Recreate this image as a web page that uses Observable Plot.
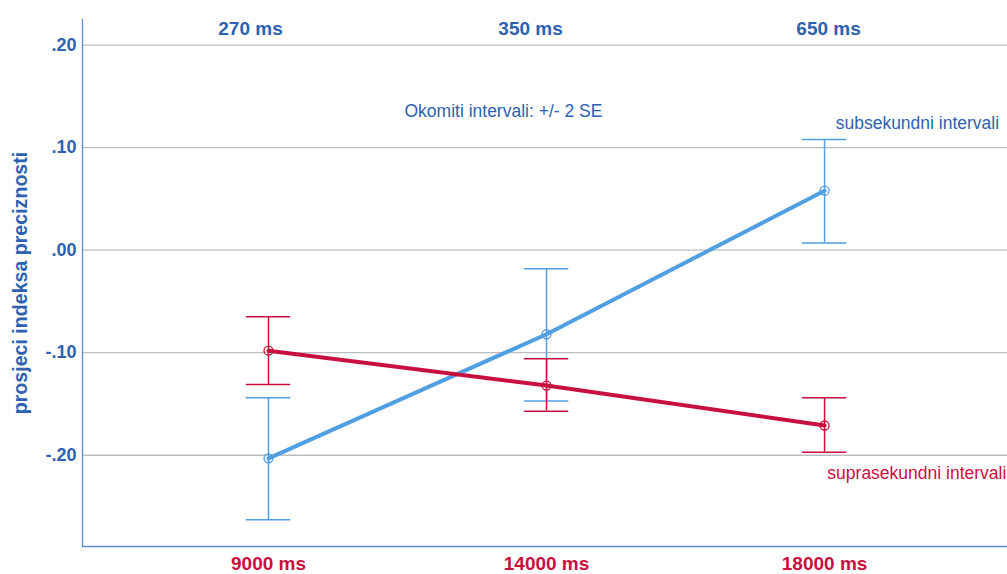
<!DOCTYPE html>
<html>
<head>
<meta charset="utf-8">
<script src="https://cdn.jsdelivr.net/npm/d3@7"></script>
<script src="https://cdn.jsdelivr.net/npm/@observablehq/plot@0.6"></script>
<style>
  html, body { margin: 0; padding: 0; background: #fff; }
  #chart svg { display: block; }
</style>
</head>
<body>
<div id="chart"></div>
<script>
// Category labels
const bottomLabels = ["9000 ms", "14000 ms", "18000 ms"];
const topLabels = ["270 ms", "350 ms", "650 ms"];
const yTicks = [-0.2, -0.1, 0, 0.1, 0.2];

// Subsekundni intervali (blue): means and +/- 2 SE bounds
const subMean = [-0.203, -0.082, 0.058];
const subLow  = [-0.263, -0.147, 0.007];
const subHigh = [-0.144, -0.018, 0.108];

// Suprasekundni intervali (red)
const supMean = [-0.098, -0.132, -0.171];
const supLow  = [-0.131, -0.157, -0.197];
const supHigh = [-0.065, -0.106, -0.144];

const BLUE = "#519fe3";
const RED = "#c8103e";
const TEXT_BLUE = "#2e62b0";

const mk = (mean, low, high) => mean.map((m, i) => ({i, m, lo: low[i], hi: high[i]}));
const sub = mk(subMean, subLow, subHigh);
const sup = mk(supMean, supLow, supHigh);
const cap = 0.08;
const fmt = v => {
  const s = Math.abs(v).toFixed(2).replace(/^0\./, ".");
  return (v < 0 ? "-" : "") + s;
};

function errorBars(data, color) {
  return [
    Plot.ruleX(data, {x: "i", y1: "lo", y2: "hi", stroke: color, strokeWidth: 1.5}),
    Plot.ruleY(data, {y: "lo", x1: d => d.i - cap, x2: d => d.i + cap, stroke: color, strokeWidth: 1.5}),
    Plot.ruleY(data, {y: "hi", x1: d => d.i - cap, x2: d => d.i + cap, stroke: color, strokeWidth: 1.5})
  ];
}

// small horizontal nudges of the top labels, as in the original
const topDx = [-18, -16, 4];

const chart = Plot.plot({
  width: 1007,
  height: 574,
  marginLeft: 82,
  marginRight: 0,
  marginTop: 19,
  marginBottom: 28,
  style: {fontFamily: "'Liberation Sans', Arial, sans-serif", background: "white"},
  x: {type: "linear", domain: [-0.669, 2.658]},
  y: {domain: [-0.289, 0.225]},
  marks: [
    Plot.gridY(yTicks, {stroke: "#bdbdbd", strokeOpacity: 1, strokeWidth: 1.3}),
    Plot.axisY(yTicks, {
      tickFormat: fmt, tickSize: 0, tickPadding: 6,
      fontSize: 18, fontWeight: "bold", color: TEXT_BLUE, label: null
    }),
    Plot.text(["prosjeci indeksa preciznosti"], {
      frameAnchor: "left", rotate: -90, dx: -62, lineAnchor: "middle", textAnchor: "middle",
      fontSize: 19.6, fontWeight: "bold", fill: TEXT_BLUE
    }),
    Plot.axisX([0, 1, 2], {
      anchor: "bottom", tickFormat: i => bottomLabels[i], tickSize: 0, tickPadding: 10,
      fontSize: 19, fontWeight: "bold", color: RED, label: null
    }),
    ...[0, 1, 2].map(k => Plot.text([k], {
      x: d => d, text: d => topLabels[d], frameAnchor: "top", dy: 2, dx: topDx[k],
      fontSize: 19, fontWeight: "bold", fill: TEXT_BLUE
    })),
    Plot.frame({anchor: "left", stroke: "#5f8bd6", strokeWidth: 1.3}),
    Plot.frame({anchor: "bottom", stroke: "#5f8bd6", strokeWidth: 1.3}),
    ...errorBars(sub, BLUE),
    ...errorBars(sup, RED),
    Plot.line(sub, {x: "i", y: "m", stroke: BLUE, strokeWidth: 4}),
    Plot.dot(sub, {x: "i", y: "m", r: 4.5, stroke: BLUE, strokeWidth: 1.3, fill: "none"}),
    Plot.line(sup, {x: "i", y: "m", stroke: RED, strokeWidth: 4}),
    Plot.dot(sup, {x: "i", y: "m", r: 4.5, stroke: RED, strokeWidth: 1.3, fill: "none"}),
    Plot.text(["Okomiti intervali: +/- 2 SE"], {x: 0.845, y: 0.1356, fontSize: 17.5, fill: TEXT_BLUE}),
    Plot.text(["subsekundni intervali"], {x: 2.04, y: 0.124, textAnchor: "start", fontSize: 17.5, fill: TEXT_BLUE}),
    Plot.text(["suprasekundni intervali"], {x: 2.01, y: -0.2176, textAnchor: "start", fontSize: 17.5, fill: RED})
  ]
});

document.getElementById("chart").appendChild(chart);
</script>
</body>
</html>
